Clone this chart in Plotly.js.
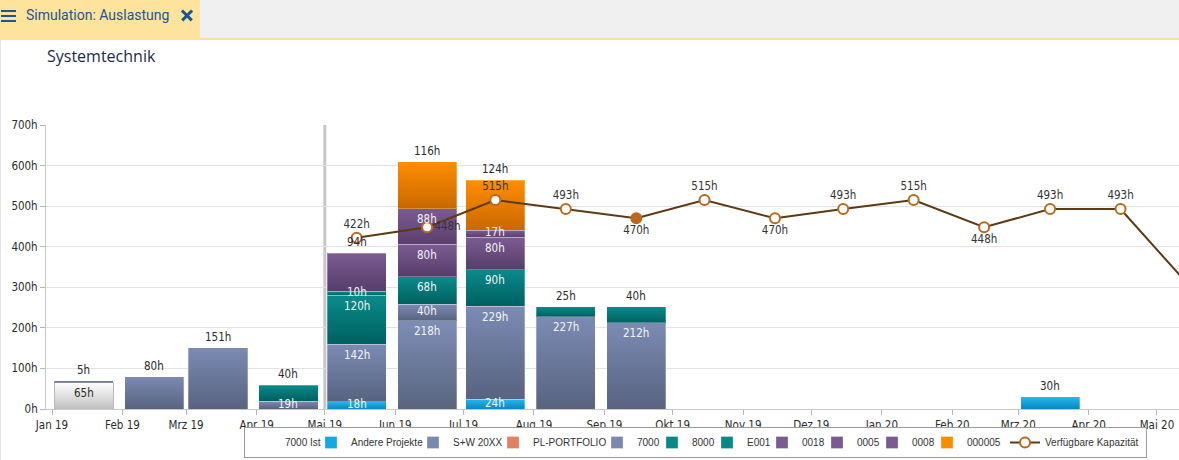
<!DOCTYPE html>
<html>
<head>
<meta charset="utf-8">
<script src="https://cdn.plot.ly/plotly-3.0.1.min.js"></script>
<style>
  html, body { margin: 0; padding: 0; background: #ffffff; overflow: hidden; }
  #chart { position: absolute; left: 0; top: 0; width: 1179px; height: 460px; }
  #hdr { position: absolute; left: 0; top: 0; width: 1179px; height: 38px; background: #f0f0f0;
         border-bottom: 2px solid #fde39c; z-index: 5; }
  #tab { position: absolute; left: 0; top: 0; width: 200px; height: 38px; background: #fde39c; }
  .bar { position: absolute; left: 1px; width: 15px; height: 2px; background: #1d5594; }
  #tabtext { position: absolute; left: 26px; top: 6px; line-height: 18px; font-family: Roboto, 'Open Sans', sans-serif;
             font-size: 14px; color: #1d5594; white-space: nowrap; }
  .xl { position: absolute; left: 180px; top: 14px; width: 14px; height: 2.6px; background: #1d5594; }
  #leftline { position: absolute; left: 0; top: 40px; width: 1px; height: 420px; background: #e6e6e6; z-index: 4; }
</style>
</head>
<body>
<div id="chart"></div>
<div id="hdr">
  <div id="tab">
    <div class="bar" style="top:10px"></div>
    <div class="bar" style="top:15px"></div>
    <div class="bar" style="top:20px"></div>
    <div id="tabtext">Simulation: Auslastung</div>
    <div class="xl" style="transform: rotate(45deg)"></div>
    <div class="xl" style="transform: rotate(-45deg)"></div>
  </div>
</div>
<div id="leftline"></div>
<script>
// ---------------- data ----------------
const months = ['2019-01','2019-02','2019-03','2019-04','2019-05','2019-06','2019-07','2019-08',
                '2019-09','2019-10','2019-11','2019-12','2020-01','2020-02','2020-03','2020-04','2020-05'];
const monthLabels = ['Jan 19','Feb 19','Mrz 19','Apr 19','Mai 19','Jun 19','Jul 19','Aug 19',
                     'Sep 19','Okt 19','Nov 19','Dez 19','Jan 20','Feb 20','Mrz 20','Apr 20','Mai 20'];

const ist7000   = [65,  null, null, null, null, null, null, null, null, null, null, null, null, null, null, null, null];
const andere    = [null,null, null, null, 18,   null, 24,   null, null, null, null, null, null, null, 30,   null, null];
const sw20xx    = [null,null, null, null, null, 218,  null, null, null, null, null, null, null, null, null, null, null];
const plPortf   = [null,null, null, null, null, null, null, null, null, null, null, null, null, null, null, null, null];
const p7000     = [5,   80,   151,  19,   142,  40,   229,  227,  212,  null, null, null, null, null, null, null, null];
const p8000     = [null,null, null, 40,   120,  68,   90,   25,   40,   null, null, null, null, null, null, null, null];
const e001      = [null,null, null, null, 10,   null, null, null, null, null, null, null, null, null, null, null, null];
const p0018     = [null,null, null, null, 94,   80,   80,   null, null, null, null, null, null, null, null, null, null];
const p0005     = [null,null, null, null, null, 88,   17,   null, null, null, null, null, null, null, null, null, null];
const p0008     = [null,null, null, null, null, null, null, null, null, null, null, null, null, null, null, null, null];
const p000005   = [null,null, null, null, null, 116,  124,  null, null, null, null, null, null, null, null, null, null];

const capMonths = ['2019-05','2019-06','2019-07','2019-08','2019-09','2019-10','2019-11','2019-12',
                   '2020-01','2020-02','2020-03','2020-04','2020-05'];
const capacity  = [422, 448, 515, 493, 470, 515, 470, 493, 515, 448, 493, 493, 305];

const todayMonth = '2019-05';
const yTicks = [0, 100, 200, 300, 400, 500, 600, 700];

// ---------------- styling ----------------
const labelFont = "'DejaVu Sans Condensed', 'DejaVu Sans', sans-serif";
const labelSize = 11.5;
const DAY = 86400000;
const series = [
  { name: '7000 Ist',        y: ist7000, color: '#ffffff', grad: ['#ffffff', '#c0c0c0'], stroke: '#b9b9b9', dark: true },
  { name: 'Andere Projekte', y: andere,  color: '#14a9e4', grad: ['#27b8ec', '#0587c2'] },
  { name: 'S+W 20XX',        y: sw20xx,  color: '#7a89b0', grad: ['#7d8db5', '#59657f'] },
  { name: 'PL-PORTFOLIO',    y: plPortf, color: '#e2805f', grad: ['#ef9274', '#c9633f'] },
  { name: '7000',            y: p7000,   color: '#7a89b0', grad: ['#7b8bb3', '#58637f'] },
  { name: '8000',            y: p8000,   color: '#068989', grad: ['#0a8b8b', '#005f5f'] },
  { name: 'E001',            y: e001,    color: '#068989', grad: ['#0b8e8b', '#006664'] },
  { name: '0018',            y: p0018,   color: '#7a5a92', grad: ['#7c5c93', '#563d69'] },
  { name: '0005',            y: p0005,   color: '#7a5a92', grad: ['#7b5b92', '#5a3f6d'] },
  { name: '0008',            y: p0008,   color: '#7a5a92', grad: ['#7b5b92', '#5a3f6d'] },
  { name: '000005',          y: p000005, color: '#ff8c00', grad: ['#ff8d00', '#c96800'] }
];

const legendFontPx = 10;
const legendFontFamily = "'Liberation Sans', Arial, sans-serif";
const ctx = document.createElement('canvas').getContext('2d');
ctx.font = legendFontPx + "px 'Liberation Sans'";
const textW = name => Math.ceil(ctx.measureText(name).width);

const barX = months.map(m => m + '-01');
const centerX = m => m + '-15';

const traces = series.map((s, i) => ({
  type: 'bar',
  name: s.name,
  x: barX,
  y: s.y,
  offset: DAY,
  width: 26 * DAY,
  marker: { color: s.color, line: { color: s.stroke ? 'rgba(255,255,255,0)' : 'rgba(255,255,255,0.28)', width: 1 } },
  hoverinfo: 'skip',
  legendwidth: Math.max(10, textW(s.name) - (i === series.length - 1 ? 1 : 15)),
  showlegend: true
}));

const capTextPos = capacity.map((v, i) => {
  const prev = capacity[i - 1], next = capacity[i + 1];
  if (i === 1) return 'middle right';
  if ((prev !== undefined && v < prev) && (next === undefined || v <= next)) return 'bottom center';
  return 'top center';
});
const capMarkerColors = capMonths.map(m => m === '2019-09' ? '#b8691f' : '#ffffff');
const lastShown = capMonths.indexOf('2020-04');

traces.push({
  type: 'scatter',
  mode: 'lines+markers+text',
  name: 'Verfügbare Kapazität',
  x: capMonths.map(centerX),
  y: capacity,
  text: capacity.map((v, i) => i <= lastShown ? v + 'h' : ''),
  textposition: capTextPos,
  textfont: { family: labelFont, size: labelSize, color: '#333333' },
  line: { color: '#5b3a14', width: 2 },
  marker: { size: 10, color: capMarkerColors, line: { color: '#b8691f', width: 2 } },
  hoverinfo: 'skip',
  legendwidth: textW('Verfügbare Kapazität') + 2,
  cliponaxis: true
});

// value labels for bar segments
const plotH = 284, yMax = 700;
const pxPerH = plotH / yMax;
const annotations = [];
months.forEach((m, i) => {
  let cum = 0;
  const segs = [];
  series.forEach(s => {
    const v = s.y[i];
    if (v != null) { segs.push({ s, v, base: cum }); cum += v; }
  });
  segs.forEach((g, k) => {
    const top = g.base + g.v;
    const isTop = k === segs.length - 1;
    const hpx = g.v * pxPerH;
    annotations.push({
      x: centerX(m), y: top, xref: 'x', yref: 'y',
      text: g.v + 'h', showarrow: false, yanchor: 'middle',
      yshift: isTop ? 11 : -Math.min(10.5, Math.max(hpx / 2 - 1.5, 0)),
      font: { family: labelFont, size: labelSize, color: (isTop || g.s.dark) ? '#2b2b2b' : '#f4f4f4' }
    });
  });
});

const layout = {
  width: 1179, height: 460,
  margin: { l: 46, r: 0, t: 125, b: 51, pad: 0 },
  paper_bgcolor: '#ffffff', plot_bgcolor: '#ffffff',
  barmode: 'stack',
  title: {
    text: 'Systemtechnik', xref: 'container', yref: 'container',
    x: 47 / 1179, xanchor: 'left', y: 1 - 56 / 460, yanchor: 'middle',
    font: { family: "'Open Sans', Roboto, sans-serif", size: 16, color: '#1a2a4c' }
  },
  xaxis: {
    type: 'date',
    range: ['2018-12-29 08:40', '2020-05-10 17:00'],
    tickmode: 'array', tickvals: barX, ticktext: monthLabels,
    ticks: 'outside', ticklen: 5, tickcolor: '#b5b5b5', tickwidth: 1,
    showline: true, linecolor: '#c8c8c8', linewidth: 1,
    showgrid: false, zeroline: false,
    tickfont: { family: labelFont, size: labelSize, color: '#2b2b2b' }
  },
  yaxis: {
    range: [0, yMax], tickmode: 'array', tickvals: yTicks, ticktext: yTicks.map(v => v + 'h'),
    ticks: 'outside', ticklen: 5, tickcolor: '#b5b5b5',
    showline: true, linecolor: '#c8c8c8', linewidth: 1,
    showgrid: true, gridcolor: '#e2e2e2', gridwidth: 1, zeroline: false,
    tickfont: { family: labelFont, size: labelSize, color: '#2b2b2b' }
  },
  shapes: [{
    type: 'line', xref: 'x', yref: 'paper',
    x0: todayMonth + '-01', x1: todayMonth + '-01', y0: 0, y1: 1,
    line: { color: '#c6c6c6', width: 3 }, layer: 'below'
  }],
  annotations: annotations,
  legend: {
    orientation: 'h', traceorder: 'normal',
    x: (1147 - 46) / 1133, xanchor: 'right',
    y: (409 - 427) / 284, yanchor: 'top',
    bordercolor: '#9a9a9a', borderwidth: 1, bgcolor: '#ffffff',
    font: { family: legendFontFamily, size: legendFontPx, color: '#333333' },
    itemwidth: 30
  },
  showlegend: true
};

const NS = 'http://www.w3.org/2000/svg';
function applyGradients(gd) {
  const svg = gd.querySelector('svg.main-svg');
  if (!svg) return;
  let defs = svg.querySelector('#bargrads');
  if (!defs) {
    defs = document.createElementNS(NS, 'defs');
    defs.setAttribute('id', 'bargrads');
    series.forEach((s, i) => {
      const lg = document.createElementNS(NS, 'linearGradient');
      lg.setAttribute('id', 'bg' + i);
      lg.setAttribute('x1', '0'); lg.setAttribute('y1', '0');
      lg.setAttribute('x2', '0'); lg.setAttribute('y2', '1');
      [[0, s.grad[0]], [1, s.grad[1]]].forEach(([o, c]) => {
        const st = document.createElementNS(NS, 'stop');
        st.setAttribute('offset', String(o));
        st.setAttribute('stop-color', c);
        lg.appendChild(st);
      });
      defs.appendChild(lg);
    });
    svg.insertBefore(defs, svg.firstChild);
  }
  gd.querySelectorAll('.barlayer .trace.bars').forEach(g => {
    const cd = g.__data__;
    if (!cd || !cd[0] || !cd[0].trace) return;
    const idx = series.findIndex(s => s.name === cd[0].trace.name);
    if (idx < 0) return;
    const s = series[idx];
    g.querySelectorAll('.point path').forEach(p => {
      p.style.fill = 'url(#bg' + idx + ')';
      if (s.stroke) { p.style.stroke = s.stroke; p.style.strokeWidth = '1px'; p.style.strokeOpacity = '1'; }
    });
  });
}

const gd = document.getElementById('chart');
Plotly.newPlot(gd, traces, layout, { staticPlot: true, displayModeBar: false }).then(() => {
  applyGradients(gd);
  gd.on && gd.on('plotly_afterplot', () => applyGradients(gd));
});
</script>
</body>
</html>
